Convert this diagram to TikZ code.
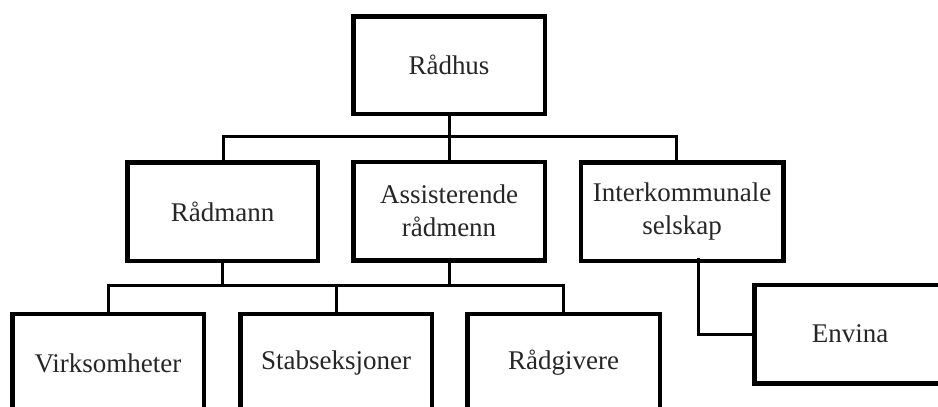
\documentclass[tikz,border=0pt]{standalone}
\usepackage{fontspec}
\setmainfont{Liberation Serif}
\begin{document}
\begin{tikzpicture}[x=1pt,y=-1pt,
  orgbox/.style={draw=black,line width=3pt,fill=white,minimum width=190pt,minimum height=97pt,
    inner sep=0pt,align=center,font=\fontsize{27}{33}\selectfont,text=black!85},
  link/.style={draw=black,line width=3pt,line cap=rect}]
\useasboundingbox (0,0) rectangle (938,407);
\fill[white] (0,0) rectangle (938,407);
\clip (0,0) rectangle (938,407);

% boxes
\node[orgbox,minimum height=96pt] (rh) at (449,65) {Rådhus};
\node[orgbox,minimum width=189pt] (rm) at (222.5,211.5) {Rådmann};
\node[orgbox] (as) at (449,211) {Assisterende\\rådmenn};
\node[orgbox,minimum width=201pt] (ik) at (682,211.5) {Interkommunale\\selskap};
\node[orgbox] (vi) at (108,363) {Virksomheter};
\node[orgbox] (st) at (336,363) {Stabseksjoner};
\node[orgbox,minimum width=191pt] (rg) at (563.5,363) {Rådgivere};
\node[orgbox] (en) at (850,334) {Envina};

% upper bus
\coordinate (ub1) at (223,136);
\coordinate (ub2) at (449,136);
\coordinate (ub3) at (676,136);
\draw[link] (ub1) -- (ub3);
\draw[link] (rh.south) -- (ub2);
\draw[link] (ub1) -- (ub1 |- rm.north);
\draw[link] (ub2) -- (ub2 |- as.north);
\draw[link] (ub3) -- (ub3 |- ik.north);

% lower bus
\coordinate (lb1) at (108,285);
\coordinate (lb2) at (336,285);
\coordinate (lb3) at (563.5,285);
\draw[link] (lb1) -- (lb3);
\draw[link] (rm.south) -- (rm.south |- lb1);
\draw[link] (as.south) -- (as.south |- lb1);
\draw[link] (lb1) -- (vi.north);
\draw[link] (lb2) -- (st.north);
\draw[link] (lb3) -- (rg.north);

% Interkommunale selskap to Envina
\coordinate (ie) at (698,259);
\draw[link] (ie) |- (en.west);

% redraw box outlines over connector ends
\foreach \n in {rh,rm,as,ik,vi,st,rg,en}
  \draw[line width=3pt] (\n.north west) rectangle (\n.south east);
\end{tikzpicture}
\end{document}
